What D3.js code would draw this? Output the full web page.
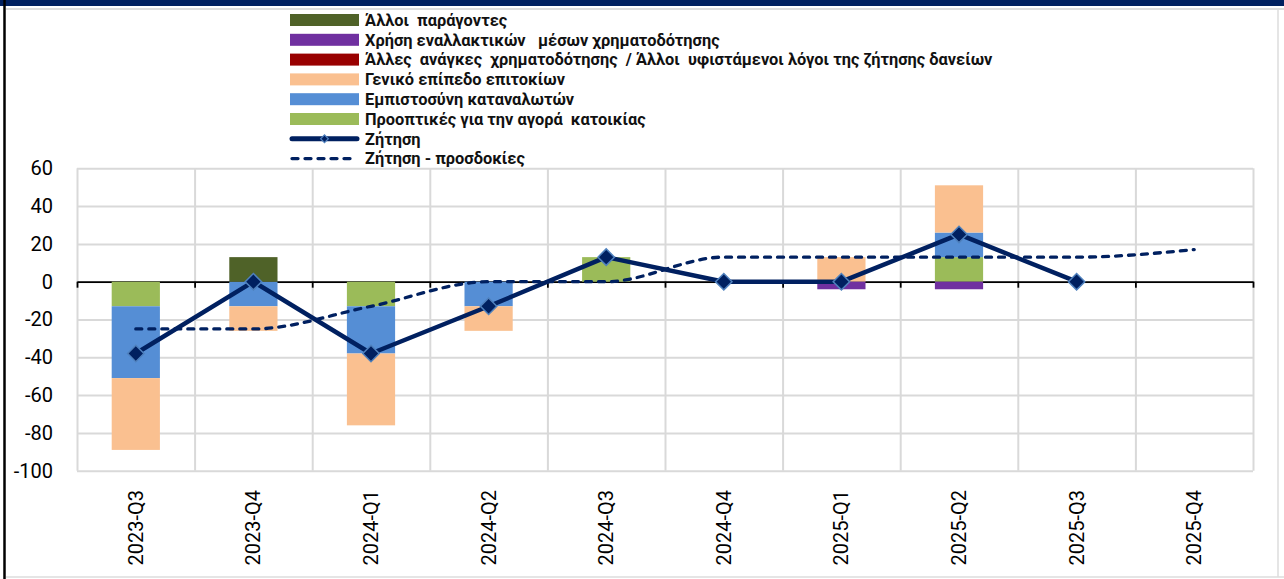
<!DOCTYPE html>
<html>
<head>
<meta charset="utf-8">
<script src="https://cdn.jsdelivr.net/npm/d3@7"></script>
<style>
  body { margin: 0; background: #fff; }
  svg { display: block; font-family: Roboto, "Noto Sans", sans-serif; }
  .legend text { font-weight: bold; font-size: 16.4px; white-space: pre; fill: #111; }
  .tick text { fill: #000; }
</style>
</head>
<body>
<svg id="chart" width="1284" height="579"></svg>
<script>
// quarters on the x axis
var quarters = ['2023-Q3', '2023-Q4', '2024-Q1', '2024-Q2', '2024-Q3',
                '2024-Q4', '2025-Q1', '2025-Q2', '2025-Q3', '2025-Q4'];

// contributions (stacked bars), null = no data
var housingProspects = [-13, 0, -13, 0, 13, 0, 0, 13, 0, null];
var consumerConfidence = [-38, -13, -25, -13, 0, 0, 0, 13, 0, null];
var interestRates = [-38, -13, -38, -13, 0, 0, 13, 25, 0, null];
var otherFinancingNeeds = [0, 0, 0, 0, 0, 0, 0, 0, 0, null];
var alternativeFinance = [0, 0, 0, 0, 0, 0, -4, -4, 0, null];
var otherFactors = [0, 13, 0, 0, 0, 0, 0, 0, 0, null];

// lines
var demand = [-38, 0, -38, -13, 13, 0, 0, 25, 0, null];
var demandExpected = [-25, -25, -13, 0, 0, 13, 13, 13, 13, 17];

var yTicks = [-100, -80, -60, -40, -20, 0, 20, 40, 60];

var series = [
    { key: 'prospects', label: 'Προοπτικές για την αγορά  κατοικίας', color: '#9BBB59', values: housingProspects },
    { key: 'confidence', label: 'Εμπιστοσύνη καταναλωτών', color: '#558ED5', values: consumerConfidence },
    { key: 'rates', label: 'Γενικό επίπεδο επιτοκίων', color: '#FAC090', values: interestRates },
    { key: 'needs', label: 'Άλλες  ανάγκες  χρηματοδότησης  / Άλλοι  υφιστάμενοι λόγοι της ζήτησης δανείων', color: '#990000', values: otherFinancingNeeds },
    { key: 'altfin', label: 'Χρήση εναλλακτικών   μέσων χρηματοδότησης', color: '#7030A0', values: alternativeFinance },
    { key: 'other', label: 'Άλλοι  παράγοντες', color: '#4F6228', values: otherFactors }
];

var navy = '#002060';
var gridColor = '#D9D9D9';

var svg = d3.select('#chart');

// frame around the sheet
svg.append('rect').attr('x', 0).attr('y', 0).attr('width', 1284).attr('height', 6).attr('fill', navy);
svg.append('line').attr('x1', 6).attr('x2', 1284).attr('y1', 9).attr('y2', 9)
    .attr('stroke', '#DDDDDD').attr('stroke-width', 2);
svg.append('line').attr('x1', 1278).attr('x2', 1278).attr('y1', 9).attr('y2', 577)
    .attr('stroke', '#DDDDDD').attr('stroke-width', 1.5);
svg.append('line').attr('x1', 6).attr('x2', 1284).attr('y1', 577).attr('y2', 577)
    .attr('stroke', '#DDDDDD').attr('stroke-width', 1.5);
svg.append('line').attr('x1', 4.5).attr('x2', 4.5).attr('y1', 0).attr('y2', 579)
    .attr('stroke', '#000').attr('stroke-width', 2.5);

// plot area
var plot = { l: 77, r: 1253, t: 168.3, b: 470.7 };
var plotW = plot.r - plot.l;
var plotH = plot.b - plot.t;

var x = d3.scaleBand().domain(quarters).range([plot.l, plot.r]).padding(0);
var xEdge = d3.scaleLinear().domain([0, quarters.length]).range([plot.l, plot.r]);
var y = d3.scaleLinear().domain([-100, 60]).range([plot.b, plot.t]);
var barW = x.bandwidth() * 0.41;
var cx = function (q) { return x(q) + x.bandwidth() / 2; };

// horizontal grid + y labels
var yAxisG = svg.append('g')
    .attr('transform', 'translate(' + plot.l + ',0)')
    .call(d3.axisLeft(y).tickValues(yTicks).tickSize(-plotW).tickPadding(24)
        .tickFormat(function (d) { return String(d); }));
yAxisG.select('.domain').remove();
yAxisG.selectAll('.tick line').attr('stroke', gridColor).attr('stroke-width', 2);
yAxisG.selectAll('.tick text').attr('font-size', 20).attr('font-family', 'Roboto, sans-serif');

// vertical grid
var vGrid = svg.append('g')
    .attr('transform', 'translate(0,' + plot.b + ')')
    .call(d3.axisBottom(xEdge).tickValues(d3.range(0, quarters.length + 1)).tickSize(-plotH).tickFormat(''));
vGrid.select('.domain').remove();
vGrid.selectAll('.tick line').attr('stroke', gridColor).attr('stroke-width', 2);

// zero axis with tick marks
var zeroAxis = svg.append('g')
    .attr('transform', 'translate(0,' + y(0) + ')')
    .call(d3.axisBottom(xEdge).tickValues(d3.range(0, quarters.length + 1)).tickSize(6).tickSizeOuter(0).tickFormat(''));
zeroAxis.select('.domain').attr('stroke', '#000').attr('stroke-width', 1.8);
zeroAxis.selectAll('.tick line').attr('stroke', '#000').attr('stroke-width', 1.8);

// stacked bars
var table = quarters.map(function (q, i) {
    var row = { quarter: q };
    series.forEach(function (s) { row[s.key] = s.values[i] == null ? 0 : s.values[i]; });
    return row;
});
var stacked = d3.stack()
    .keys(series.map(function (s) { return s.key; }))
    .offset(d3.stackOffsetDiverging)(table);

svg.append('g').selectAll('g')
    .data(stacked)
    .join('g')
    .attr('fill', function (d, i) { return series[i].color; })
    .selectAll('rect')
    .data(function (d) { return d; })
    .join('rect')
    .attr('x', function (d) { return cx(d.data.quarter) - barW / 2; })
    .attr('width', barW)
    .attr('y', function (d) { return y(Math.max(d[0], d[1])); })
    .attr('height', function (d) { return Math.abs(y(d[0]) - y(d[1])); });

// expected demand, smoothed dashed line
var expLine = d3.line()
    .x(function (d, i) { return cx(quarters[i]); })
    .y(function (d) { return y(d); })
    .curve(d3.curveMonotoneX);
svg.append('path')
    .datum(demandExpected)
    .attr('d', expLine)
    .attr('fill', 'none')
    .attr('stroke', navy)
    .attr('stroke-width', 3.3)
    .attr('stroke-linecap', 'round')
    .attr('stroke-dasharray', '6,7');

// demand line
var demLine = d3.line()
    .defined(function (d) { return d != null; })
    .x(function (d, i) { return cx(quarters[i]); })
    .y(function (d) { return y(d); });
svg.append('path')
    .datum(demand)
    .attr('d', demLine)
    .attr('fill', 'none')
    .attr('stroke', navy)
    .attr('stroke-width', 4.5)
    .attr('stroke-linejoin', 'round');

var diamond = d3.symbol().type(d3.symbolSquare).size(135);
svg.append('g').selectAll('path')
    .data(demand.map(function (v, i) { return { q: quarters[i], v: v }; }).filter(function (d) { return d.v != null; }))
    .join('path')
    .attr('d', diamond)
    .attr('transform', function (d) { return 'translate(' + cx(d.q) + ',' + y(d.v) + ') rotate(45)'; })
    .attr('fill', navy)
    .attr('stroke', '#4F81BD')
    .attr('stroke-width', 1.5);

// x labels, rotated
svg.append('g').selectAll('text')
    .data(quarters)
    .join('text')
    .attr('transform', function (q) { return 'translate(' + cx(q) + ',490) rotate(-90)'; })
    .attr('text-anchor', 'end')
    .attr('dy', '0.35em')
    .attr('font-size', 20)
    .attr('fill', '#000')
    .text(function (q) { return q; });

// legend
var legendItems = series.slice().reverse().map(function (s) { return { type: 'bar', label: s.label, color: s.color }; });
legendItems.push({ type: 'line', label: 'Ζήτηση' });
legendItems.push({ type: 'dash', label: 'Ζήτηση - προσδοκίες' });

var legend = svg.append('g').attr('class', 'legend');
var rows = legend.selectAll('g')
    .data(legendItems)
    .join('g')
    .attr('transform', function (d, i) { return 'translate(290,' + (20 + i * 19.8) + ')'; });

rows.filter(function (d) { return d.type === 'bar'; })
    .append('rect')
    .attr('x', 0).attr('y', -6).attr('width', 69).attr('height', 12)
    .attr('fill', function (d) { return d.color; });

rows.filter(function (d) { return d.type !== 'bar'; })
    .append('line')
    .attr('x1', 2).attr('x2', 67).attr('y1', 0).attr('y2', 0)
    .attr('stroke', navy)
    .attr('stroke-linecap', 'round')
    .attr('stroke-width', function (d) { return d.type === 'line' ? 5 : 3.3; })
    .attr('stroke-dasharray', function (d) { return d.type === 'dash' ? '6,7' : null; });

rows.filter(function (d) { return d.type === 'line'; })
    .append('path')
    .attr('d', d3.symbol().type(d3.symbolSquare).size(30))
    .attr('transform', 'translate(34.5,0) rotate(45)')
    .attr('fill', navy)
    .attr('stroke', '#4F81BD')
    .attr('stroke-width', 1.2);

rows.append('text')
    .attr('x', 75)
    .attr('dy', '0.35em')
    .text(function (d) { return d.label; });
</script>
</body>
</html>
